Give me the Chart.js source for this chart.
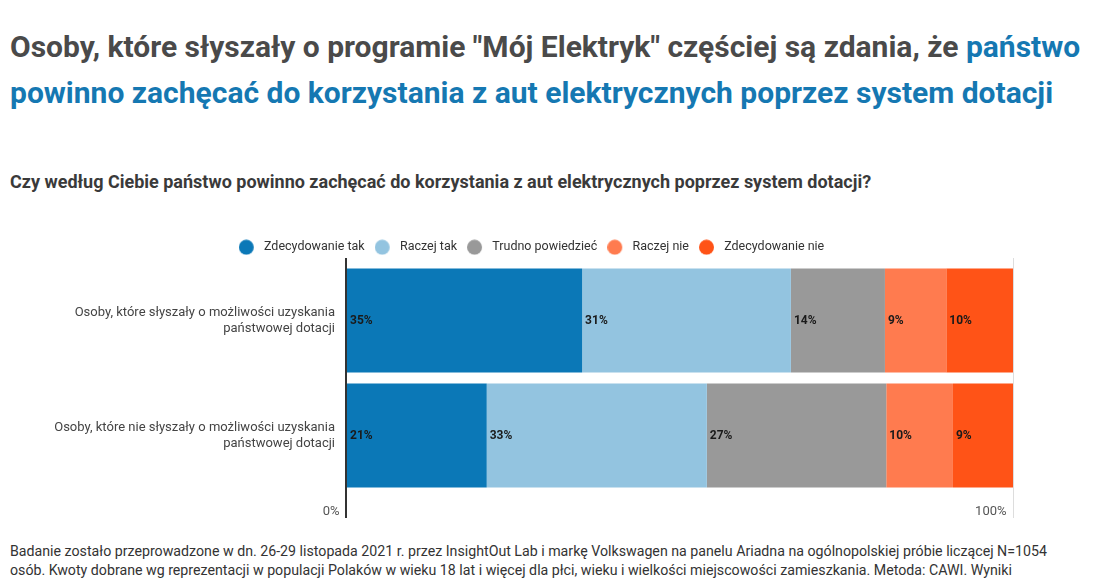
<!DOCTYPE html>
<html>
<head>
<meta charset="utf-8">
<script src="https://cdn.jsdelivr.net/npm/chart.js@4"></script>
<style>
  body { margin: 0; width: 1114px; height: 587px; overflow: hidden; background: #fff; font-family: Roboto, sans-serif; }
  #title { position: absolute; left: 10px; top: 24px; width: 1104px; white-space: nowrap; font-size: 30px; font-weight: bold; line-height: 46px; color: #4a4a4a; }
  #title span { color: #1578b2; }
  #subtitle { position: absolute; left: 10px; top: 171px; white-space: nowrap; font-size: 18px; font-weight: bold; color: #3a3a3a; }
  #wrap { position: absolute; left: 0; top: 231px; width: 1114px; height: 292px; }
  #footer { position: absolute; left: 10px; top: 542px; white-space: nowrap; font-size: 14.2px; line-height: 19px; color: #333; }
</style>
</head>
<body>
<div id="title">Osoby, które słyszały o programie "Mój Elektryk" częściej są zdania, że <span>państwo<br>powinno zachęcać do korzystania z aut elektrycznych poprzez system dotacji</span></div>
<div id="subtitle">Czy według Ciebie państwo powinno zachęcać do korzystania z aut elektrycznych poprzez system dotacji?</div>
<div id="wrap"><canvas id="bar_chart"></canvas></div>
<div id="footer">Badanie zostało przeprowadzone w dn. 26-29 listopada 2021 r. przez InsightOut Lab i markę Volkswagen na panelu Ariadna na ogólnopolskiej próbie liczącej N=1054<br>osób. Kwoty dobrane wg reprezentacji w populacji Polaków w wieku 18 lat i więcej dla płci, wieku i wielkości miejscowości zamieszkania. Metoda: CAWI. Wyniki</div>
<script>
const groups = [
    ['Osoby, które słyszały o możliwości uzyskania', 'państwowej dotacji'],
    ['Osoby, które nie słyszały o możliwości uzyskania', 'państwowej dotacji']
];
const answers = ['Zdecydowanie tak', 'Raczej tak', 'Trudno powiedzieć', 'Raczej nie', 'Zdecydowanie nie'];
const colors = ['#0b78b7', '#93c4e0', '#999999', '#ff7b4f', '#ff5317'];

// shares per answer: [heard, not heard]
const zdecydowanie_tak = [35.4, 21.1];
const raczej_tak = [31.3, 33.0];
const trudno = [14.1, 26.9];
const raczej_nie = [9.2, 10.0];
const zdecydowanie_nie = [10.0, 9.0];
const values = [zdecydowanie_tak, raczej_tak, trudno, raczej_nie, zdecydowanie_nie];

const x_ticks = [0, 100];

// legend dot: circle sitting on the left of a wider box, so the text gets more room
function legend_dot(color) {
    const c = document.createElement('canvas');
    c.width = 19;
    c.height = 16;
    const g = c.getContext('2d');
    g.fillStyle = color;
    g.beginPath();
    g.arc(7.5, 8, 7.5, 0, Math.PI * 2);
    g.fill();
    return c;
}
const dots = colors.map(legend_dot);

const bar_labels = {
    id: 'bar_labels',
    afterDatasetsDraw(chart) {
        const ctx = chart.ctx;
        ctx.save();
        ctx.font = 'bold 12px Roboto, sans-serif';
        ctx.fillStyle = '#1a1a1a';
        ctx.textAlign = 'left';
        ctx.textBaseline = 'middle';
        chart.data.datasets.forEach((ds, i) => {
            chart.getDatasetMeta(i).data.forEach((bar, j) => {
                ctx.fillText(Math.round(ds.data[j]) + '%', bar.base + 3, bar.y);
            });
        });
        ctx.restore();
    }
};

const line_color = (c) => c.tick && c.tick.value === 0 ? '#333' : '#dddddd';
const line_width = (c) => c.tick && c.tick.value === 0 ? 2 : 1;

new Chart(document.getElementById('bar_chart'), {
    type: 'bar',
    data: {
        labels: groups,
        datasets: answers.map((name, i) => ({
            label: name,
            data: values[i],
            backgroundColor: colors[i],
            borderWidth: 0,
            barPercentage: 0.904,
            categoryPercentage: 1
        }))
    },
    options: {
        indexAxis: 'y',
        responsive: true,
        maintainAspectRatio: false,
        animation: false,
        layout: { padding: { left: 50, right: 101, top: 0, bottom: 0 } },
        plugins: {
            tooltip: { enabled: false },
            legend: {
                position: 'top',
                maxHeight: 27,
                labels: {
                    usePointStyle: true,
                    pointStyleWidth: 19,
                    color: '#333',
                    padding: 10,
                    font: { family: 'Roboto', size: 12.5 },
                    generateLabels: (chart) => Chart.defaults.plugins.legend.labels.generateLabels(chart)
                        .map((item, i) => Object.assign(item, { pointStyle: dots[i] }))
                }
            }
        },
        scales: {
            x: {
                stacked: true,
                min: 0,
                max: 100,
                afterBuildTicks: (scale) => { scale.ticks = x_ticks.map(v => ({ value: v })); },
                afterFit: (scale) => { scale.height = 30; },
                ticks: {
                    align: 'end',
                    padding: -14,
                    color: '#555',
                    font: { family: 'Roboto', size: 13 },
                    callback: (v) => v + '%  '
                },
                border: { display: false },
                grid: {
                    drawTicks: true,
                    tickLength: 25,
                    color: line_color,
                    lineWidth: line_width
                }
            },
            x_top: {
                type: 'linear',
                position: 'top',
                min: 0,
                max: 100,
                afterBuildTicks: (scale) => { scale.ticks = x_ticks.map(v => ({ value: v })); },
                ticks: { display: false },
                border: { display: false },
                grid: {
                    drawOnChartArea: false,
                    drawTicks: true,
                    tickLength: 5,
                    color: line_color,
                    lineWidth: line_width
                }
            },
            y: {
                stacked: true,
                afterFit: (scale) => { scale.width = 296; },
                ticks: {
                    padding: 11,
                    color: '#444',
                    font: { family: 'Roboto', size: 13, lineHeight: 1.2 }
                },
                border: { display: false },
                grid: { display: false, drawTicks: false }
            }
        }
    },
    plugins: [bar_labels]
});
</script>
</body>
</html>
